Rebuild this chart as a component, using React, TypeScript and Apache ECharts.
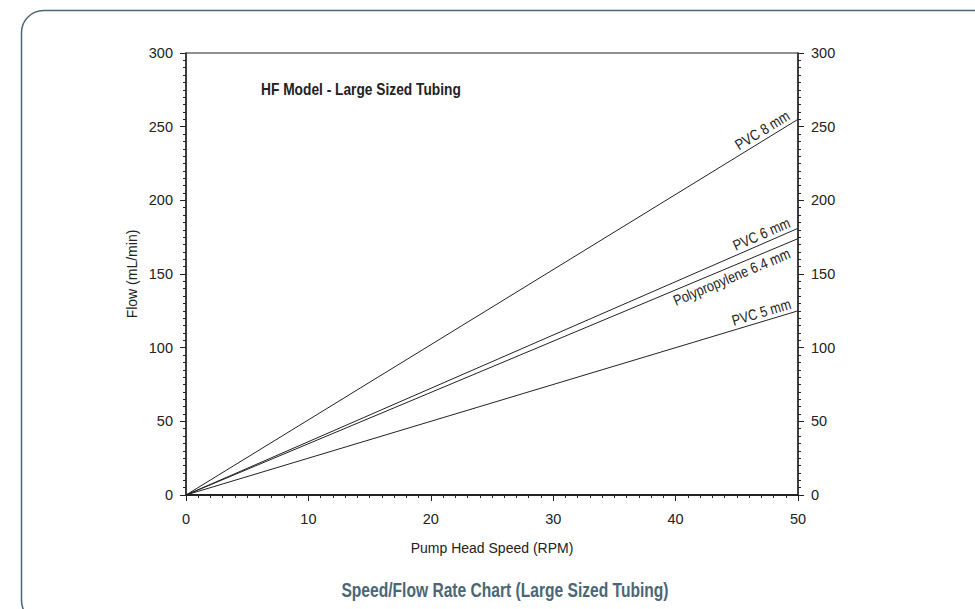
import React, { useEffect, useRef } from "react";
import * as echarts from "echarts";

const xRange = [0, 50];
const seriesNames = ["PVC 8 mm", "PVC 6 mm", "Polypropylene 6.4 mm", "PVC 5 mm"];
const pvc8 = [0, 255];
const pvc6 = [0, 181];
const pp64 = [0, 174];
const pvc5 = [0, 125];
const seriesValues = [pvc8, pvc6, pp64, pvc5];
const labelSide = ["above", "above", "below", "above"];
const labelAtX = [49.6, 49.6, 49.0, 49.6];
const yTicks = { min: 0, max: 300, interval: 50 };
const xTicks = { min: 0, max: 50, interval: 10 };

const FONT = "'Liberation Sans Narrow', 'Arial Narrow', 'Liberation Sans', Arial, sans-serif";
const INK = "#222222";
const SLATE = "#4b6676";

export default function App() {
  const ref = useRef<HTMLDivElement>(null);
  useEffect(() => {
    document.body.style.margin = "0";
    const chart = echarts.init(ref.current!, null, { renderer: "svg" });
    const yCommon = (position: "left" | "right") => ({
      type: "value",
      position,
      min: yTicks.min,
      max: yTicks.max,
      interval: yTicks.interval,
      axisLine: { show: true, lineStyle: { color: INK, width: 1.5 } },
      axisTick: { show: true, length: 6, lineStyle: { color: INK } },
      minorTick: { show: true, splitNumber: 10, length: 3, lineStyle: { color: INK } },
      splitLine: { show: false },
      axisLabel: { fontSize: 14.5, color: INK, margin: 13, fontFamily: FONT },
    });
    chart.setOption({
      animation: false,
      grid: { left: 186, right: 177, top: 53, bottom: 114, show: true, borderColor: INK, borderWidth: 1 },
      xAxis: {
        type: "value",
        min: xTicks.min,
        max: xTicks.max,
        interval: xTicks.interval,
        axisLine: { show: true, lineStyle: { color: INK, width: 1.8 } },
        axisTick: { show: true, length: 6, lineStyle: { color: INK } },
        minorTick: { show: true, splitNumber: 10, length: 3, lineStyle: { color: INK } },
        splitLine: { show: false },
        axisLabel: { fontSize: 14.5, color: INK, margin: 16, fontFamily: FONT },
        name: "Pump Head Speed (RPM)",
        nameLocation: "middle",
        nameGap: 46,
        nameMoveOverlap: false,
        nameTextStyle: { fontSize: 14, color: INK, fontFamily: FONT },
      },
      yAxis: [
        {
          ...yCommon("left"),
          name: "Flow (mL/min)",
          nameLocation: "middle",
          nameGap: 47,
          nameMoveOverlap: false,
          nameTextStyle: { fontSize: 14, color: INK, fontFamily: FONT },
        },
        yCommon("right"),
      ],
      series: seriesNames.map((name, i) => ({
        name,
        type: "line",
        symbol: "none",
        lineStyle: { color: INK, width: 1 },
        data: xRange.map((x, j) => [x, seriesValues[i][j]]),
      })),
    });

    const labels = seriesNames.map((name, i) => {
      const v = seriesValues[i];
      const p0 = chart.convertToPixel({ gridIndex: 0 }, [xRange[0], v[0]]) as number[];
      const p1 = chart.convertToPixel({ gridIndex: 0 }, [xRange[1], v[1]]) as number[];
      const theta = Math.atan2(p0[1] - p1[1], p1[0] - p0[0]);
      const xa = labelAtX[i];
      const ya = v[0] + ((v[1] - v[0]) * (xa - xRange[0])) / (xRange[1] - xRange[0]);
      const pa = chart.convertToPixel({ gridIndex: 0 }, [xa, ya]) as number[];
      const above = labelSide[i] === "above";
      const g = 2;
      const nx = -Math.sin(theta);
      const ny = -Math.cos(theta);
      const sx = above ? pa[0] + g * nx : pa[0] - g * nx;
      const sy = above ? pa[1] + g * ny : pa[1] - g * ny;
      return {
        type: "text",
        x: sx,
        y: sy,
        rotation: theta,
        scaleX: 0.84,
        style: {
          text: name,
          fontSize: 15,
          fontFamily: FONT,
          fill: INK,
          align: "right",
          verticalAlign: above ? "bottom" : "top",
        },
      };
    });

    chart.setOption({
      graphic: [
        {
          type: "rect",
          shape: { x: 21.5, y: 10.5, width: 1000, height: 612, r: 22 },
          style: { fill: "none", stroke: SLATE, lineWidth: 1.5 },
          silent: true,
        },
        {
          type: "text",
          x: 261,
          y: 89,
          scaleX: 0.86,
          style: {
            text: "HF Model - Large Sized Tubing",
            fontSize: 16,
            fontWeight: "bold",
            fontFamily: FONT,
            fill: INK,
            align: "left",
            verticalAlign: "middle",
          },
        },
        {
          type: "text",
          x: 505,
          y: 590,
          scaleX: 0.78,
          style: {
            text: "Speed/Flow Rate Chart (Large Sized Tubing)",
            fontSize: 20,
            fontWeight: "bold",
            fontFamily: FONT,
            fill: SLATE,
            align: "center",
            verticalAlign: "middle",
          },
        },
        ...labels,
      ],
    });
    return () => chart.dispose();
  }, []);
  return <div ref={ref} style={{ width: 975, height: 609 }} />;
}
